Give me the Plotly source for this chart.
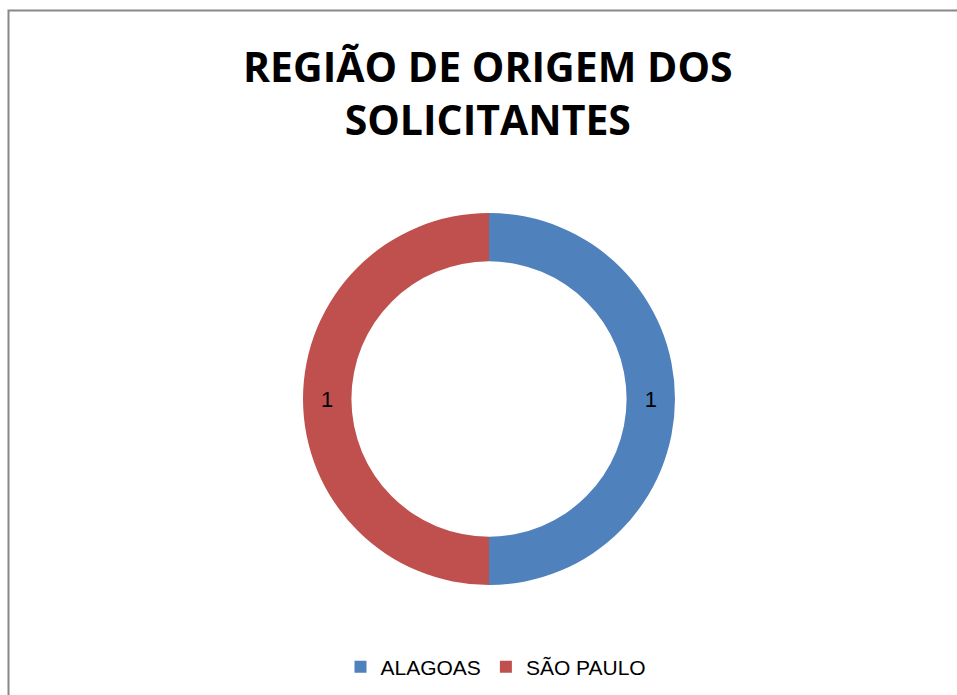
import plotly.graph_objects as go

labels = ["ALAGOAS", "SÃO PAULO"]
values = [1, 1]
colors = ["#4F81BD", "#C0504D"]
title_lines = ["REGIÃO DE ORIGEM DOS", "SOLICITANTES"]

W, H = 957, 695

fig = go.Figure()
fig.add_trace(go.Pie(
    labels=labels, values=values, hole=0.74, sort=False, direction="clockwise", rotation=0,
    marker=dict(colors=colors, line=dict(width=0)),
    textinfo="value", textposition="inside", insidetextorientation="horizontal",
    textfont=dict(family="Liberation Sans, Arial", size=22, color="#000000"),
    domain=dict(x=[303 / W, 675 / W], y=[(H - 585) / H, (H - 213) / H]),
    showlegend=True,
))

fig.add_annotation(
    text="<b>" + "<br>".join(title_lines) + "</b>",
    x=488 / W, y=(H - 92) / H, xref="paper", yref="paper", showarrow=False,
    xanchor="center", yanchor="middle",
    font=dict(family="Open Sans, Liberation Sans", size=41, color="#000000"),
)

fig.add_shape(type="rect", xref="paper", yref="paper",
              x0=8.5 / W, y0=-0.05, x1=1.05, y1=(H - 10.5) / H,
              line=dict(color="#888888", width=2), fillcolor="rgba(0,0,0,0)")

fig.update_layout(
    width=W, height=H, margin=dict(l=0, r=0, t=0, b=0),
    paper_bgcolor="white", plot_bgcolor="white",
    uniformtext=dict(minsize=22, mode="show"),
    legend=dict(orientation="h", x=496 / W, xanchor="center", y=(H - 667) / H, yanchor="middle",
                font=dict(family="Liberation Sans, Arial", size=21, color="#000000"),
                itemwidth=30, traceorder="normal"),
)

fig.write_html("out.html")
